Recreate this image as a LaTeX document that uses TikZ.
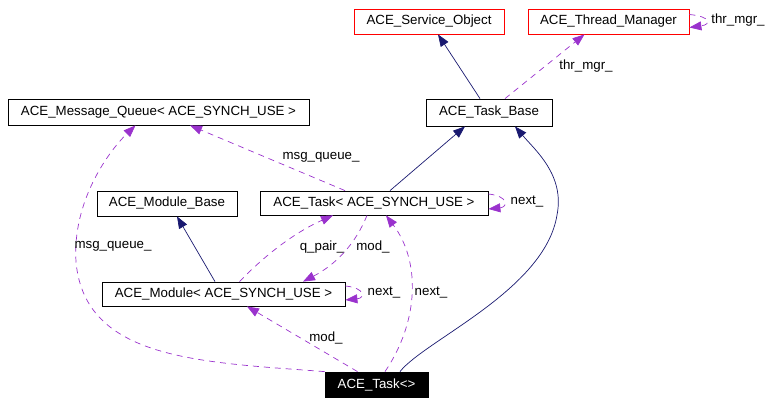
\documentclass[tikz,border=0pt]{standalone}
\usepackage{fontspec}
\setmainfont{Liberation Sans}
\usetikzlibrary{arrows.meta}
\definecolor{edgeblue}{HTML}{191970}
\definecolor{edgepurple}{HTML}{9A32CD}
\begin{document}
\begin{tikzpicture}[
  x=1pt, y=-1pt,
  every node/.style={font=\fontsize{13.3}{15}\selectfont, inner sep=0pt},
  cls/.style={draw, line width=0.8pt, minimum height=25pt},
  redcls/.style={cls, draw=red},
  lbl/.style={anchor=center},
  baseedge/.style={draw=edgeblue, line width=0.7pt, -{Triangle[length=12pt,width=9pt]}},
  memberedge/.style={draw=edgepurple, line width=0.7pt, dash pattern=on 6pt off 5pt,
    -{Triangle[length=12pt,width=9pt]}}
]
\useasboundingbox (0,0) rectangle (774,404);
\node[redcls, minimum width=150pt] (svcobj) at (429,21.5) {ACE\_Service\_Object};
\node[redcls, minimum width=161pt] (thrmgr) at (608.5,21.5) {ACE\_Thread\_Manager};
\node[cls, minimum width=126pt, minimum height=27pt] (taskbase) at (489,112.5) {ACE\_Task\_Base};
\node[cls, minimum width=301pt, minimum height=26pt] (msgqueue) at (158.5,112) {ACE\_Message\_Queue< ACE\_SYNCH\_USE >};
\node[cls, minimum width=140pt] (modbase) at (167,203.5) {ACE\_Module\_Base};
\node[cls, minimum width=228pt, minimum height=24pt] (task) at (374,203) {ACE\_Task< ACE\_SYNCH\_USE >};
\node[cls, minimum width=243pt, minimum height=24pt] (module) at (223.5,294) {ACE\_Module< ACE\_SYNCH\_USE >};
\node[cls, fill=black, text=white, minimum width=103pt] (tasknull) at (376.5,384.5) {ACE\_Task<>};

\draw[baseedge] ([xshift=-9pt]taskbase.north) -- ([xshift=9pt]svcobj.south);
\draw[memberedge] ([xshift=16pt]taskbase.north) -- ([xshift=-24pt]thrmgr.south)
  node[lbl, at={(586,66)}] {thr\_mgr\_};
\draw[memberedge] ([yshift=7pt]thrmgr.east) .. controls +(22,2) and +(22,-3) .. ([yshift=-6pt]thrmgr.east)
  node[lbl, at={(738,20)}] {thr\_mgr\_};
\draw[baseedge] ([xshift=16pt]task.north) -- ([xshift=-24pt]taskbase.south);
\draw[baseedge] ([xshift=23.5pt]tasknull.north) .. controls (425,340) and (545,290) .. (557,215)
  .. controls (565,175) and (535,150) .. ([xshift=26pt]taskbase.south);
\draw[memberedge] ([xshift=-29pt]task.north) -- ([xshift=31.5pt]msgqueue.south)
  node[lbl, at={(321,157)}] {msg\_queue\_};
\draw[memberedge] (tasknull.north west) .. controls (200,362) and (85,360) .. (76,262)
  .. controls (72,200) and (110,150) .. ([xshift=-23pt]msgqueue.south)
  node[lbl, at={(113,246)}] {msg\_queue\_};
\draw[baseedge] ([xshift=-8.5pt]module.north) -- ([xshift=10pt]modbase.south);
\draw[memberedge] ([xshift=16pt]module.north) .. controls (270,250) and (300,230) .. ([xshift=-41pt]task.south)
  node[lbl, at={(322,247)}] {q\_pair\_};
\draw[memberedge] ([xshift=-7pt]task.south) .. controls (355,245) and (335,265) .. ([xshift=79.5pt]module.north)
  node[lbl, at={(373,247)}] {mod\_};
\draw[memberedge] ([yshift=9pt]task.east) .. controls +(20,2) and +(20,-2) .. ([yshift=-6pt]task.east)
  node[lbl, at={(527,202)}] {next\_};
\draw[memberedge] ([yshift=8pt]module.east) .. controls +(20,2) and +(20,-2) .. ([yshift=-6pt]module.east)
  node[lbl, at={(384,293)}] {next\_};
\draw[memberedge] ([xshift=8.5pt]tasknull.north) .. controls (420,320) and (420,260) .. ([xshift=12pt]task.south)
  node[lbl, at={(431,293)}] {next\_};
\draw[memberedge] ([xshift=-19pt]tasknull.north) -- ([xshift=23.5pt]module.south)
  node[lbl, at={(326,338)}] {mod\_};
\end{tikzpicture}
\end{document}
